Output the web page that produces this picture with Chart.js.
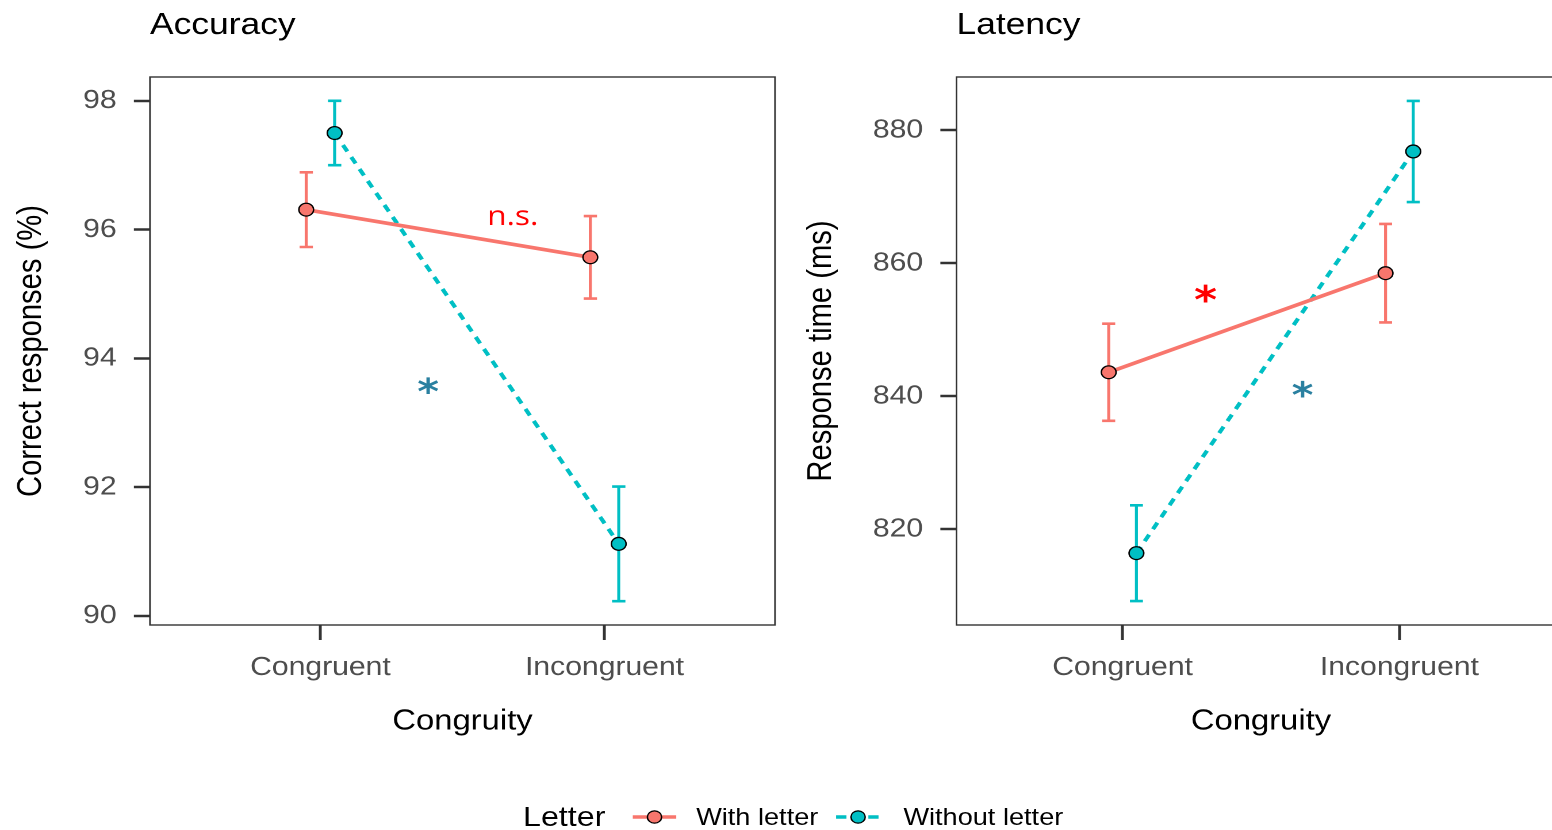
<!DOCTYPE html>
<html>
<head>
<meta charset="utf-8">
<script src="https://cdn.jsdelivr.net/npm/chart.js@4.4.1/dist/chart.umd.min.js"></script>
<style>
  html, body { margin: 0; padding: 0; background: #fff; width: 1552px; height: 830px; overflow: hidden; }
  /* the reference is stretched sideways, so the whole stage is too */
  #stage { position: absolute; left: 0; top: 0; width: 1350px; height: 830px; transform: scaleX(1.15); transform-origin: 0 0; }
  .panel { position: absolute; top: 0; }
  #legend { position: absolute; left: 454.8px; top: 797px; height: 40px; display: flex; align-items: center;
            font-family: "Liberation Sans", Arial, sans-serif; color: #000; white-space: nowrap; }
  #legend .title { font-size: 28px; margin-right: 23.4px; }
  #legend .label { font-size: 23.6px; }
  #legend svg { display: block; }
</style>
</head>
<body>
<div id="stage">
  <canvas id="acc" class="panel" width="700" height="750" style="left:0px"></canvas>
  <canvas id="lat" class="panel" width="700" height="750" style="left:700px"></canvas>
  <div id="legend"></div>
</div>
<script>
const categories = ['Congruent', 'Incongruent'];
const seriesNames = ['With letter', 'Without letter'];
const seriesColors = ['#F8766D', '#00BFC4'];

// Accuracy (% correct), mean and error half-width
const accWith = [96.31, 95.57];
const accWithErr = [0.58, 0.64];
const accWithout = [97.50, 91.12];
const accWithoutErr = [0.50, 0.89];
const accTicks = [90, 92, 94, 96, 98];

// Latency (ms)
const latWith = [843.6, 858.5];
const latWithErr = [7.3, 7.4];
const latWithout = [816.4, 876.8];
const latWithoutErr = [7.2, 7.6];
const latTicks = [820, 840, 860, 880];

// significance notes, in data units
const accNotes = [
  { text: 'n.s.', x: 1.677, y: 96.19, kind: 'ns' },
  { text: '*', x: 1.379, y: 93.56, kind: 'without' }
];
const latNotes = [
  { text: '*', x: 1.30, y: 855.4, kind: 'with' },
  { text: '*', x: 1.65, y: 840.9, kind: 'without' }
];

const dodge = 0.05;
const capHalf = 0.0235;
const FONT = '"Liberation Sans", Arial, sans-serif';
const noteStyles = {
  ns: { color: '#ff0000', font: '27.5px "Open Sans", sans-serif' },
  with: { color: '#ff0000', font: 'bold 38px "DejaVu Sans", sans-serif' },
  without: { color: '#2a80a0', font: 'bold 36px "DejaVu Sans", sans-serif' }
};

const errorBars = {
  id: 'errorBars',
  beforeDatasetsDraw(chart) {
    const { ctx, scales: { x, y } } = chart;
    chart.data.datasets.forEach(ds => {
      ctx.save();
      ctx.strokeStyle = ds.backgroundColor;
      ctx.lineWidth = 2.6;
      ds.data.forEach((p, i) => {
        const px = x.getPixelForValue(p.x);
        const x0 = x.getPixelForValue(p.x - capHalf);
        const x1 = x.getPixelForValue(p.x + capHalf);
        const top = y.getPixelForValue(p.y + ds.err[i]);
        const bot = y.getPixelForValue(p.y - ds.err[i]);
        ctx.beginPath();
        ctx.moveTo(px, top); ctx.lineTo(px, bot);
        ctx.moveTo(x0, top); ctx.lineTo(x1, top);
        ctx.moveTo(x0, bot); ctx.lineTo(x1, bot);
        ctx.stroke();
      });
      ctx.restore();
    });
  }
};

const notes = {
  id: 'notes',
  afterDatasetsDraw(chart, args, opts) {
    const { ctx, scales: { x, y } } = chart;
    (opts.items || []).forEach(n => {
      const st = noteStyles[n.kind];
      ctx.save();
      ctx.font = st.font;
      ctx.fillStyle = st.color;
      ctx.textAlign = 'center';
      ctx.textBaseline = 'alphabetic';
      const m = ctx.measureText(n.text);
      const cy = y.getPixelForValue(n.y) + (m.actualBoundingBoxAscent - m.actualBoundingBoxDescent) / 2;
      ctx.fillText(n.text, x.getPixelForValue(n.x), cy);
      ctx.restore();
    });
  }
};

const frame = {
  id: 'frame',
  afterDraw(chart, args, opts) {
    const { ctx, chartArea: a } = chart;
    ctx.save();
    ctx.strokeStyle = '#333';
    ctx.lineWidth = 1.4;
    ctx.strokeRect(a.left, a.top, a.right - a.left, a.bottom - a.top);
    ctx.fillStyle = '#000';
    ctx.font = '30.8px ' + FONT;
    ctx.textAlign = 'left';
    ctx.textBaseline = 'alphabetic';
    ctx.fillText(opts.title, a.left, 34);
    ctx.restore();
  }
};

function series(i, vals, errs, offset, dash) {
  return {
    label: seriesNames[i],
    data: vals.map((v, k) => ({ x: k + 1 + offset, y: v })),
    err: errs,
    showLine: true,
    borderColor: seriesColors[i],
    backgroundColor: seriesColors[i],
    borderWidth: 3.7,
    borderDash: dash,
    pointRadius: 6.4,
    pointBorderWidth: 1.3,
    pointBorderColor: '#000',
    pointBackgroundColor: seriesColors[i]
  };
}

function makeChart(id, c) {
  return new Chart(document.getElementById(id), {
    type: 'scatter',
    data: {
      datasets: [
        series(0, c.withVals, c.withErr, -dodge, []),
        series(1, c.withoutVals, c.withoutErr, dodge, [7.5, 6.5])
      ]
    },
    plugins: [errorBars, notes, frame],
    options: {
      responsive: false,
      animation: false,
      devicePixelRatio: 2,
      layout: { padding: { top: 77, right: c.padRight, bottom: 0, left: 0 } },
      scales: {
        x: {
          type: 'linear', min: 0.4, max: 2.6,
          afterBuildTicks: s => { s.ticks = categories.map((_, i) => ({ value: i + 1 })); },
          afterFit: s => { s.height = 125; },
          grid: { drawOnChartArea: false, drawTicks: true, tickLength: 15, tickWidth: 2.5, tickColor: '#333' },
          border: { display: false },
          ticks: { callback: v => categories[v - 1], color: '#4d4d4d', font: { family: FONT, size: 26.2 },
                   padding: 12, maxRotation: 0, autoSkip: false },
          title: { display: true, text: 'Congruity', color: '#000', font: { family: FONT, size: 28.5, lineHeight: 1 },
                   padding: { top: 0, bottom: 14 } }
        },
        y: {
          min: c.yMin, max: c.yMax,
          afterBuildTicks: s => { s.ticks = c.ticks.map(v => ({ value: v })); },
          afterFit: s => { s.width = c.yWidth; },
          grid: { drawOnChartArea: false, drawTicks: true, tickLength: 14, tickWidth: 2.5, tickColor: '#333' },
          border: { display: false },
          ticks: { color: '#4d4d4d', font: { family: FONT, size: 26.2 }, padding: 15 },
          title: { display: true, text: c.yTitle, color: '#000', font: { family: FONT, size: 29.2, lineHeight: 1 },
                   padding: { top: c.yTitlePad, bottom: 0 } }
        }
      },
      plugins: {
        legend: { display: false },
        tooltip: { enabled: false },
        notes: { items: c.notes },
        frame: { title: c.title }
      }
    }
  });
}

makeChart('acc', {
  title: 'Accuracy', yTitle: 'Correct responses (%)',
  withVals: accWith, withErr: accWithErr, withoutVals: accWithout, withoutErr: accWithoutErr,
  ticks: accTicks, yMin: 89.86, yMax: 98.37, notes: accNotes,
  yWidth: 130.4, padRight: 26.1, yTitlePad: 13
});

makeChart('lat', {
  title: 'Latency', yTitle: 'Response time (ms)',
  withVals: latWith, withErr: latWithErr, withoutVals: latWithout, withoutErr: latWithoutErr,
  ticks: latTicks, yMin: 805.6, yMax: 888.0, notes: latNotes,
  yWidth: 131.7, padRight: 38.7, yTitlePad: 0
});

// shared legend
const legend = document.getElementById('legend');
const lt = document.createElement('span');
lt.className = 'title';
lt.textContent = 'Letter';
legend.appendChild(lt);
const dashes = ['', '9 5'];
const keyGaps = [[0, 17.3], [15.7, 20]];
seriesNames.forEach((name, i) => {
  const ns = 'http://www.w3.org/2000/svg';
  const svg = document.createElementNS(ns, 'svg');
  svg.setAttribute('width', '38.3');
  svg.setAttribute('height', '20');
  svg.style.marginLeft = keyGaps[i][0] + 'px';
  svg.style.marginRight = keyGaps[i][1] + 'px';
  const line = document.createElementNS(ns, 'line');
  line.setAttribute('x1', '0'); line.setAttribute('x2', '38.3');
  line.setAttribute('y1', '10'); line.setAttribute('y2', '10');
  line.setAttribute('stroke', seriesColors[i]);
  line.setAttribute('stroke-width', '3.6');
  if (dashes[i]) line.setAttribute('stroke-dasharray', dashes[i]);
  const dot = document.createElementNS(ns, 'circle');
  dot.setAttribute('cx', '19.15'); dot.setAttribute('cy', '10'); dot.setAttribute('r', '6.2');
  dot.setAttribute('fill', seriesColors[i]);
  dot.setAttribute('stroke', '#000');
  dot.setAttribute('stroke-width', '1.3');
  svg.appendChild(line);
  svg.appendChild(dot);
  legend.appendChild(svg);
  const lab = document.createElement('span');
  lab.className = 'label';
  lab.textContent = name;
  legend.appendChild(lab);
});
</script>
</body>
</html>
